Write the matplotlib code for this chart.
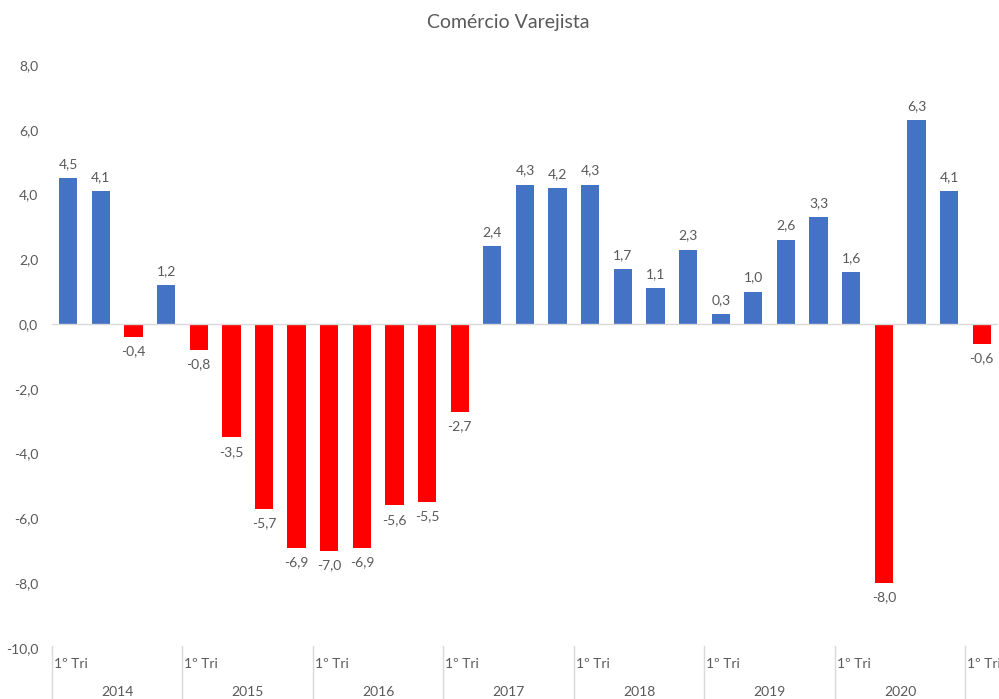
import numpy as np
import matplotlib.pyplot as plt
from matplotlib.transforms import blended_transform_factory

plt.rcParams['font.family'] = ['Lato', 'DejaVu Sans']

values = [4.5, 4.1, -0.4, 1.2, -0.8, -3.5, -5.7, -6.9, -7.0, -6.9, -5.6, -5.5, -2.7,
          2.4, 4.3, 4.2, 4.3, 1.7, 1.1, 2.3, 0.3, 1.0, 2.6, 3.3, 1.6, -8.0, 6.3, 4.1, -0.6]
years = ['2014', '2015', '2016', '2017', '2018', '2019', '2020']
quarter_label = '1º Tri'

blue = '#4472C4'
red = '#FF0000'
gray = '#595959'

x = np.arange(len(values))
colors = [blue if v >= 0 else red for v in values]

fig = plt.figure(figsize=(9.99, 6.99), dpi=100)
ax = fig.add_axes([0.052, 0.073, 0.947, 0.834])

bars = ax.bar(x, values, width=0.56, color=colors)
ax.bar_label(bars, labels=[f'{v:.1f}'.replace('.', ',') for v in values],
             padding=6, fontsize=10, color=gray)

ax.set_xlim(-0.5, len(values) - 0.5)
ax.set_ylim(-10, 8)
ax.set_yticks(np.arange(-10, 9, 2))
ax.set_yticklabels([f'{t:.1f}'.replace('.', ',') for t in np.arange(-10, 9, 2)])
ax.tick_params(axis='y', length=0, labelsize=10, labelcolor=gray, pad=10)
ax.set_xticks([])
for s in ax.spines.values():
    s.set_visible(False)
ax.axhline(0, color='#D9D9D9', linewidth=1)

trans = blended_transform_factory(ax.transData, ax.transAxes)
# year separators and category labels
for i in range(len(years) + 1):
    xs = i * 4 - 0.5
    ax.plot([xs, xs], [0.003, -0.09], transform=trans, color='#D9D9D9',
            linewidth=1, clip_on=False)
    ax.text(xs + 0.05, -0.027, quarter_label, transform=trans, ha='left',
            va='center', fontsize=10, color=gray)
for i, y in enumerate(years):
    ax.text(i * 4 + 1.5, -0.076, y, transform=trans, ha='center', va='center',
            fontsize=10, color=gray)

fig.text(0.509, 0.968, 'Comércio Varejista', ha='center', va='center',
         fontsize=14, color=gray)

fig.savefig('out.png', dpi=100)
